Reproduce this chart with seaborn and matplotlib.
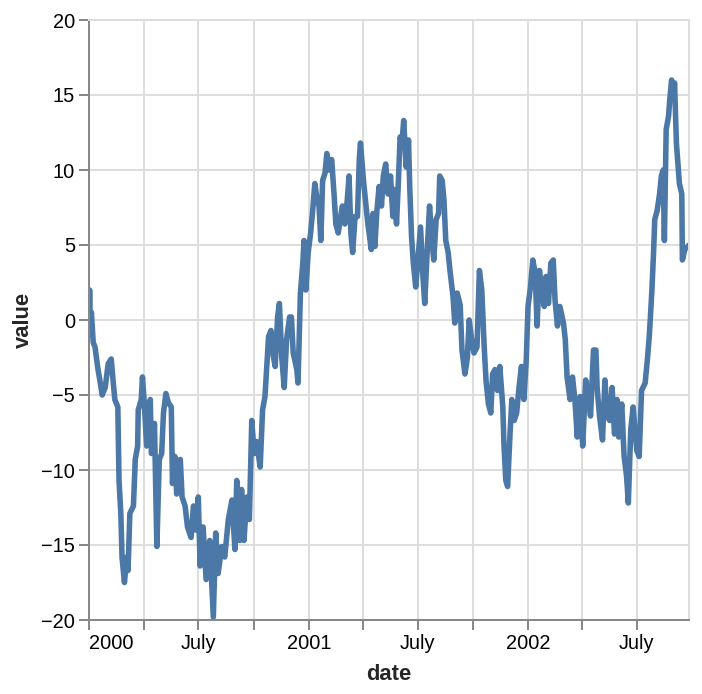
import pandas as pd
import matplotlib
matplotlib.use("Agg")
import matplotlib.pyplot as plt
import seaborn as sns

START = "2000-01-01"
END_DAY = 999

# days after 2000-01-01
day = [
    0, 1, 2, 4, 7, 10, 15, 18, 22, 27,
    32, 37, 40, 43, 48, 50, 53, 55, 59, 63,
    65, 68, 74, 77, 81, 82, 87, 89, 92, 96,
    102, 104, 109, 113, 117, 121, 124, 128, 132, 137,
    139, 143, 146, 152, 155, 160, 164, 170, 174, 178,
    182, 185, 190, 195, 201, 207, 211, 215, 221, 226,
    232, 238, 243, 246, 251, 254, 258, 263, 267, 271,
    275, 279, 285, 289, 293, 299, 303, 306, 310, 314,
    317, 321, 325, 329, 334, 337, 340, 346, 348, 352,
    356, 358, 361, 365, 369, 372, 376, 380, 383, 386,
    389, 393, 396, 400, 404, 408, 411, 415, 419, 422,
    426, 430, 433, 436, 439, 443, 447, 450, 452, 457,
    462, 465, 470, 473, 476, 479, 483, 487, 490, 494,
    498, 502, 506, 508, 512, 515, 518, 521, 524, 528,
    532, 534, 537, 540, 544, 548, 552, 556, 559, 563,
    567, 571, 574, 578, 582, 584, 588, 591, 594, 598,
    601, 606, 609, 613, 618, 621, 626, 630, 633, 637,
    641, 646, 650, 654, 658, 661, 665, 669, 672, 676,
    680, 684, 689, 691, 694, 697, 701, 704, 708, 712,
    716, 720, 724, 728, 731, 735, 739, 743, 746, 750,
    754, 758, 761, 765, 769, 773, 776, 780, 784, 790,
    793, 796, 801, 805, 809, 813, 818, 822, 827, 831,
    835, 840, 844, 846, 850, 855, 859, 863, 867, 871,
    875, 879, 882, 887, 891, 895, 898, 902, 906, 912,
    916, 920, 926, 930, 933, 937, 940, 942, 946, 950,
    953, 956, 958, 961, 965, 967, 970, 973, 975, 978,
    983, 987, 988, 992, 997, 999,
]

value = [
    -0.5, 2.0, -0.9, 0.5, -1.5, -1.8, -3.3, -4.0, -5.0, -4.5,
    -2.9, -2.6, -4.0, -5.3, -5.8, -10.7, -12.9, -15.8, -17.5, -15.8,
    -16.7, -12.9, -12.4, -9.3, -8.4, -6.0, -5.3, -3.8, -5.5, -8.4,
    -5.3, -8.9, -6.9, -15.1, -9.3, -8.9, -6.2, -4.9, -5.5, -5.8,
    -10.9, -9.1, -11.6, -9.3, -11.8, -12.4, -13.8, -14.5, -12.4, -14.0,
    -11.8, -16.4, -13.8, -17.3, -14.7, -19.8, -14.2, -16.9, -15.1, -15.8,
    -13.3, -12.0, -15.3, -10.7, -14.7, -11.3, -14.7, -11.8, -13.3, -6.7,
    -8.9, -8.1, -9.8, -6.0, -5.1, -1.1, -0.7, -2.2, -3.1, 0.2,
    1.1, -2.5, -4.5, -1.3, 0.2, 0.2, -2.2, -3.3, -4.2, 1.8,
    3.8, 5.3, 2.0, 4.5, 5.8, 7.1, 9.1, 8.0, 7.6, 5.3,
    9.3, 9.8, 11.1, 10.0, 10.7, 8.4, 6.4, 5.8, 6.9, 7.6,
    6.4, 8.0, 9.6, 5.8, 4.5, 6.9, 6.9, 10.7, 11.8, 9.3,
    7.3, 6.2, 4.7, 7.1, 4.9, 7.1, 8.9, 7.6, 9.6, 10.4,
    8.4, 9.6, 6.9, 8.7, 6.4, 9.1, 12.2, 11.8, 13.3, 10.2,
    12.0, 8.9, 5.6, 3.8, 2.2, 4.2, 6.2, 2.9, 1.1, 4.5,
    7.6, 5.3, 4.0, 6.7, 7.1, 9.6, 9.3, 8.0, 5.3, 4.5,
    3.3, 1.6, -0.2, 1.8, 1.0, -2.0, -3.6, -2.5, 0.0, -1.3,
    -2.2, -1.8, 3.3, 2.0, -1.8, -4.0, -5.6, -6.2, -3.6, -3.3,
    -4.7, -3.1, -5.8, -8.4, -10.7, -11.1, -7.6, -5.3, -6.7, -6.2,
    -4.5, -3.1, -5.3, -2.7, 0.9, 2.2, 4.0, 3.1, -0.4, 3.3,
    2.0, 0.9, 2.9, 1.1, 3.8, 4.0, 1.3, -0.4, 0.9, -0.2,
    -1.3, -3.8, -5.3, -3.8, -5.3, -7.8, -5.1, -8.4, -4.0, -4.9,
    -6.4, -2.0, -2.0, -4.5, -6.4, -8.0, -4.0, -6.4, -6.7, -4.5,
    -7.6, -5.3, -7.8, -5.6, -9.1, -10.4, -12.2, -7.3, -5.8, -8.7,
    -9.1, -4.7, -4.2, -2.5, -1.0, 1.8, 4.5, 6.7, 7.3, 8.4,
    9.6, 10.0, 5.3, 12.7, 13.6, 14.7, 16.0, 15.1, 15.8, 11.8,
    9.1, 8.4, 4.0, 4.7, 4.9, 5.0,
]

y_ticks = [-20, -15, -10, -5, 0, 5, 10, 15, 20]

assert len(day) == len(value)

df = pd.DataFrame({
    "date": pd.Timestamp(START) + pd.to_timedelta(day, unit="D"),
    "value": value,
})

sns.set_theme(style="white")
plt.rcParams["font.family"] = ["Liberation Sans", "DejaVu Sans"]

fig = plt.figure(figsize=(7.02, 6.94), dpi=100)
ax = fig.add_axes([89 / 702, 74 / 694, 600 / 702, 600 / 694])

sns.lineplot(data=df, x="date", y="value", ax=ax, color="#4c78a8", linewidth=4.0)

x0 = pd.Timestamp(START)
x1 = x0 + pd.Timedelta(days=END_DAY)
ax.set_xlim(x0, x1)
ax.set_ylim(-20, 20)

# quarterly ticks, labels on January / July only
quarters = pd.date_range(x0, x1, freq="QS")
labels = []
for q in quarters:
    if q.month == 1:
        labels.append(str(q.year))
    elif q.month == 7:
        labels.append("July")
    else:
        labels.append("")
ax.set_xticks(quarters, labels)
ax.set_yticks(y_ticks)
ax.get_xticklabels()[0].set_horizontalalignment("left")

ax.set_axisbelow(True)
ax.grid(True, color="#dddddd", linewidth=1.44)
for side in ["top", "right"]:
    ax.spines[side].set_color("#dddddd")
    ax.spines[side].set_linewidth(1.44)
for side in ["left", "bottom"]:
    ax.spines[side].set_color("#888888")
    ax.spines[side].set_linewidth(1.44)

ax.tick_params(axis="both", length=7.2, width=1.44, color="#888888",
               labelsize=14.4, pad=2.9, labelcolor="black",
               bottom=True, left=True)

ax.set_xlabel("date", fontsize=15.8, fontweight="bold", labelpad=8)
ax.set_ylabel("value", fontsize=15.8, fontweight="bold", labelpad=5)

fig.savefig("out.png", dpi=100)
